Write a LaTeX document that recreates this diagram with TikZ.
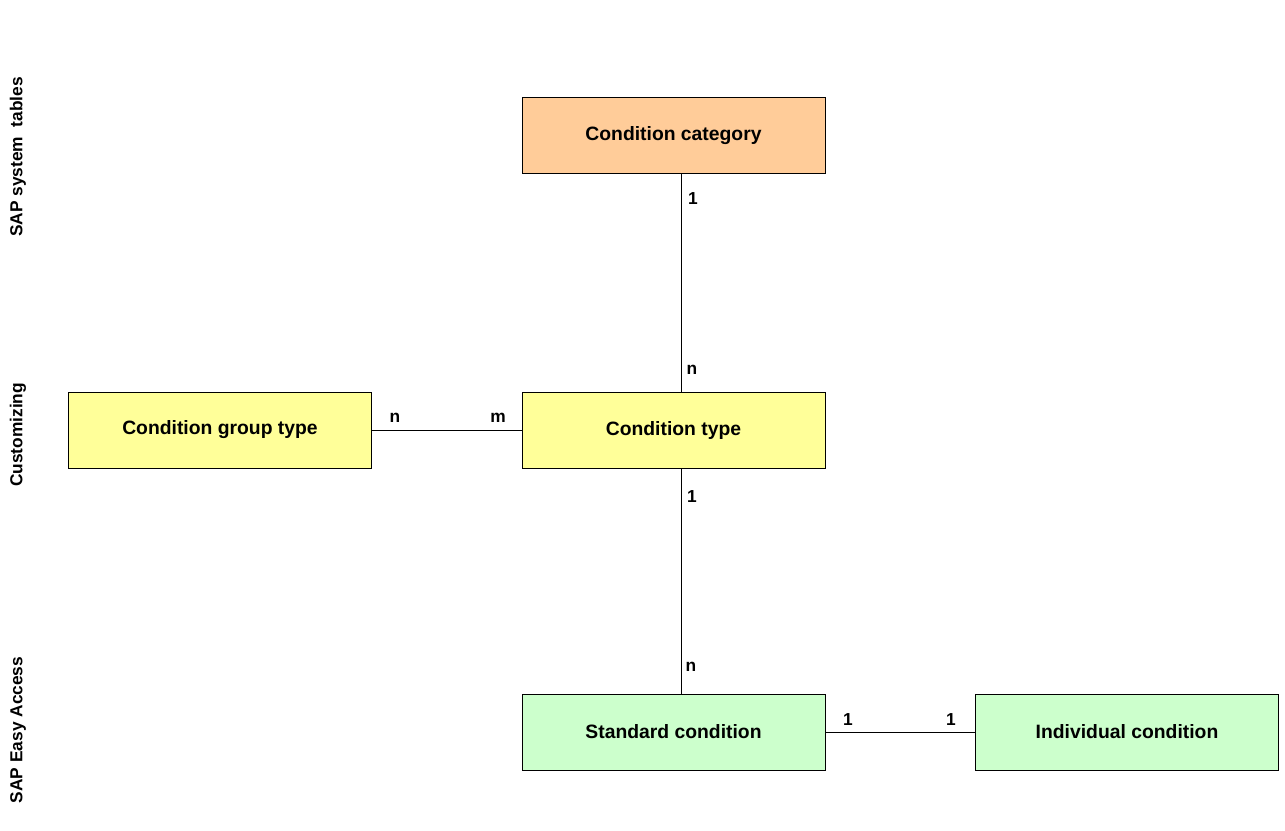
\documentclass[tikz,border=0pt]{standalone}
\usepackage{fontspec}
\setmainfont{Liberation Sans}
\definecolor{orangebox}{HTML}{FFCC99}
\definecolor{yellowbox}{HTML}{FFFF99}
\definecolor{greenbox}{HTML}{CCFFCC}
\begin{document}
\begin{tikzpicture}[x=0.75pt,y=-0.75pt,
  box/.style={draw=black,line width=0.6pt,minimum width=303*0.75pt,minimum height=76*0.75pt,inner sep=0pt,font=\fontsize{14.5}{17}\selectfont\bfseries},
  card/.style={font=\fontsize{13}{15}\selectfont\bfseries,inner sep=0pt},
  side/.style={rotate=90,font=\fontsize{13}{15}\selectfont\bfseries,inner sep=0pt},
  conn/.style={line width=0.6pt}]
\useasboundingbox (0,0) rectangle (1285,831);
\node[box,fill=orangebox] (cat) at (673.5,135.5) {Condition category};
\node[box,fill=yellowbox] (type) at (673.5,430) {Condition type};
\node[box,fill=yellowbox] (group) at (220,430) {Condition group type};
\node[box,fill=greenbox] (std) at (673.5,732) {Standard condition};
\node[box,fill=greenbox] (ind) at (1127,732) {Individual condition};
\draw[conn] (cat.south -| 681,0) -- (type.north -| 681,0);
\draw[conn] (type.south -| 681,0) -- (std.north -| 681,0);
\draw[conn] (group.east) -- (type.west);
\draw[conn] (std.east) -- (ind.west);
\node[card] (l1) at (693,199) {1};
\node[card] (l2) at (692,370) {n};
\node[card] (l3) at (395,418) {n};
\node[card] (l4) at (498,418) {m};
\node[card] (l5) at (692,497) {1};
\node[card] (l6) at (691,667) {n};
\node[card] (l7) at (848,720) {1};
\node[card] (l8) at (951,720) {1};
\node[side] (s1) at (18,157) {SAP system\ \ tables};
\node[side] (s2) at (18,435) {Customizing};
\node[side] (s3) at (18,730) {SAP Easy Access};
\end{tikzpicture}
\end{document}
